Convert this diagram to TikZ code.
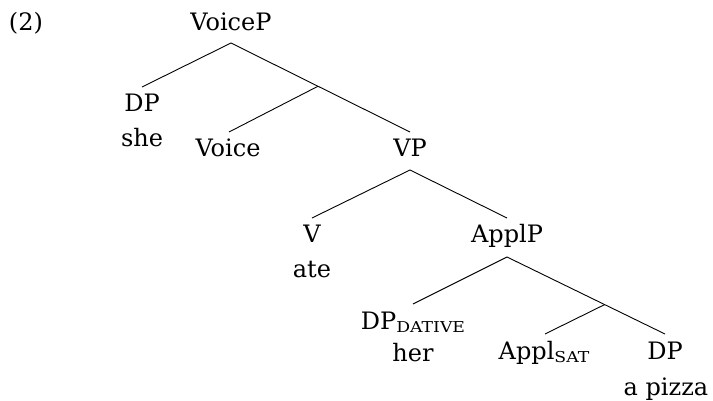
\documentclass[tikz,border=0pt]{standalone}
\usepackage{fontspec}
\setmainfont{DejaVu Serif}
\usetikzlibrary{calc}
\newcommand{\mysc}[1]{\raisebox{-3pt}{\scalebox{1.15}[1]{\fontsize{15}{15}\selectfont #1}}}
\begin{document}
\begin{tikzpicture}[x=1pt,y=-1pt,
  lbl/.style={anchor=base,inner sep=0pt,outer sep=0pt,font=\fontsize{24}{35}\selectfont},
  branch/.style={line width=0.9pt}]
\useasboundingbox (0,0) rectangle (713,401);
\node[lbl,anchor=base west] (num) at (9,31) {(2)};
\node[lbl] (VoiceP) at (231,31) {VoiceP};
\node[lbl] (DPa) at (142,112) {DP};
\node[lbl] (she) at (142,147) {she};
\node[lbl] (Voice) at (228,157) {Voice};
\node[lbl] (VP) at (410,157) {VP};
\node[lbl] (V) at (312,243) {V};
\node[lbl] (ate) at (312,277) {ate};
\node[lbl] (ApplP) at (507,243) {ApplP};
\node[lbl] (DPdat) at (413,329) {DP\mysc{DATIVE}};
\node[lbl] (her) at (413,361) {her};
\node[lbl] (Applsat) at (544,359) {Appl\mysc{SAT}};
\node[lbl] (DPb) at (665,359) {DP};
\node[lbl] (pizza) at (666,395) {a pizza};
% attachment points
\coordinate (VoicePb) at ([yshift=-12pt]VoiceP.base);
\coordinate (VPt) at ([yshift=25pt]VP.base);
\coordinate (VPb) at ([yshift=-13pt]VP.base);
\coordinate (ApplPb) at ([yshift=-14pt]ApplP.base);
\coordinate (DPbt) at ([yshift=25pt]DPb.base);
\coordinate (b1) at ($(VoicePb)!0.486!(VPt)$);
\coordinate (b2) at ($(ApplPb)!0.618!(DPbt)$);
\draw[branch] (VoicePb) -- ([yshift=25pt]DPa.base);
\draw[branch] (VoicePb) -- (VPt);
\draw[branch] (b1) -- ([shift={(1pt,25pt)}]Voice.base);
\draw[branch] (VPb) -- ([yshift=25pt]V.base);
\draw[branch] (VPb) -- ([yshift=25pt]ApplP.base);
\draw[branch] (ApplPb) -- ([yshift=25pt]DPdat.base);
\draw[branch] (ApplPb) -- (DPbt);
\draw[branch] (b2) -- ([shift={(1pt,25pt)}]Applsat.base);
\end{tikzpicture}
\end{document}
